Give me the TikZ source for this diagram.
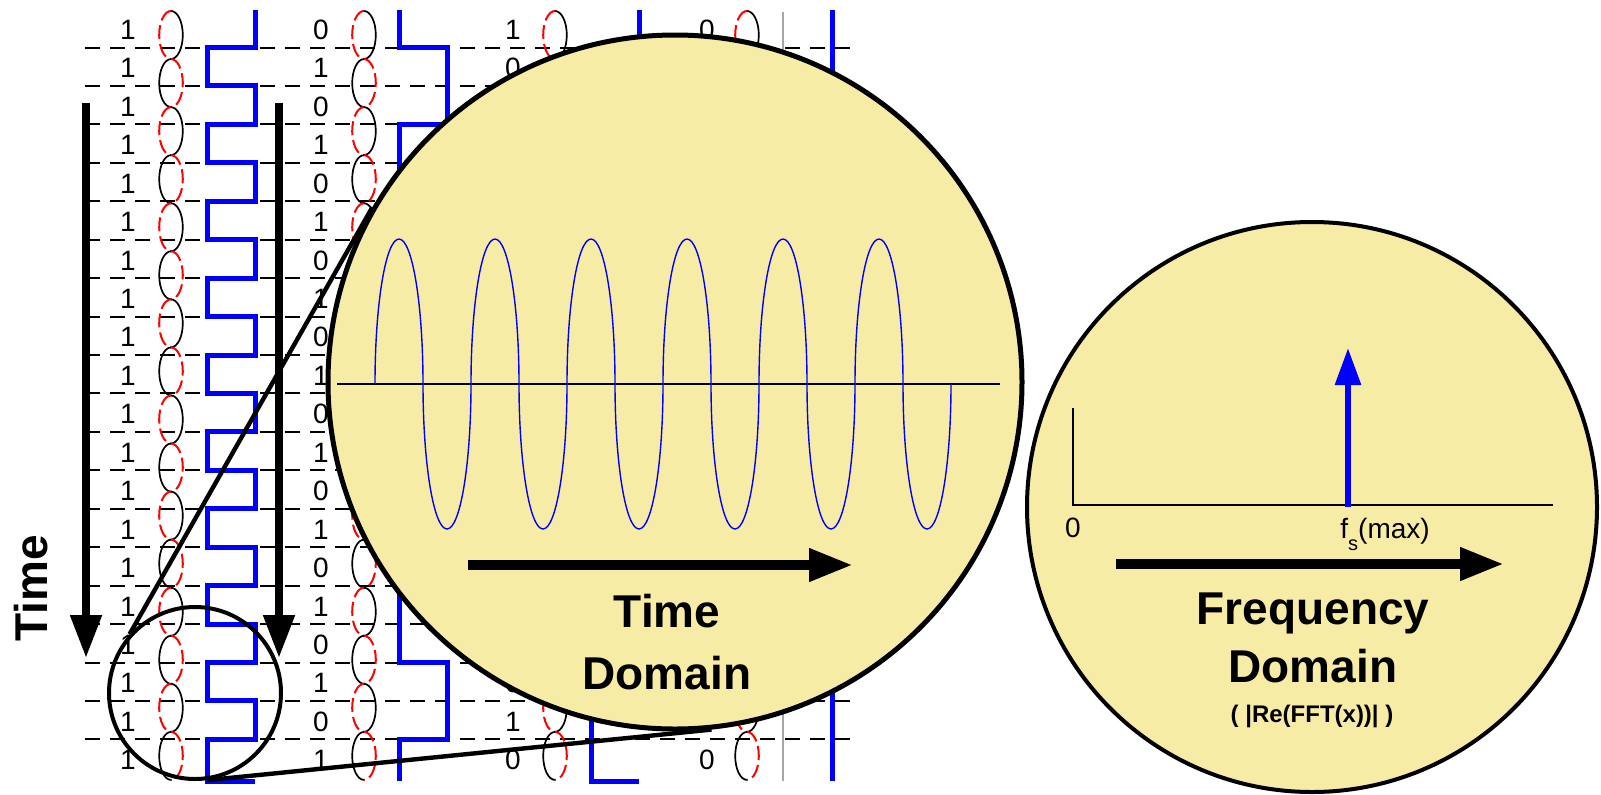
\documentclass[tikz,border=0pt]{standalone}
\usepackage{fontspec}
\setmainfont{Liberation Sans}
\usetikzlibrary{arrows.meta}
\definecolor{lensfill}{RGB}{247,236,166}
\definecolor{wireblue}{RGB}{0,0,255}
\tikzset{
  gridline/.style={dash pattern=on 7.5pt off 5pt, line width=1pt},
  digit/.style={font=\fontsize{14}{16}\selectfont, inner sep=0pt},
  spinf/.style={line width=0.85pt},
  spinb/.style={red, line width=1pt, dash pattern=on 7pt off 2.5pt},
  sq/.style={wireblue, line width=2.5pt},
  tarrow/.style={line width=4pt, -{Triangle[length=21.5pt,width=15pt]}},
  harrow/.style={line width=5pt, -{Triangle[length=22pt,width=15.5pt]}},
  spike/.style={wireblue, line width=3pt, -{Triangle[length=18.5pt,width=12.5pt]}},
  axisl/.style={line width=0.65pt},
  sine/.style={wireblue, line width=0.7pt},
  disc/.style={circle, draw, fill=lensfill, inner sep=0pt},
  lens/.style={circle, draw, line width=2pt, inner sep=0pt, minimum size=86pt},
  link/.style={line width=2.2pt},
  biglbl/.style={font=\fontsize{23}{28}\selectfont\bfseries, inner sep=0pt, anchor=base},
}

\begin{document}
\begin{tikzpicture}[x=0.5pt, y=-0.5pt]
  \useasboundingbox (0,0) rectangle (1601,794);
  \foreach \k [evaluate=\k as \yy using 47.5+38.44*(\k-1)] in {1,...,19}
    \draw[gridline] (85,\yy) -- (853,\yy);
  \foreach \cx/\dodd/\deven [count=\ci] in {128/1/1,321/0/1,513/1/0,707/0/0} {
    \foreach \r in {1,...,20} {
      \pgfmathsetmacro\yy{47.5+38.44*(\r-1.5)+1.5}
      \pgfmathtruncatemacro\seen{veclen(\cx-675,\yy-382)>337}
      \ifnum\seen=1
        \node[digit] (d\ci-\r) at (\cx,\yy) {\ifodd\r\relax\dodd\else\deven\fi};
      \fi
    }
  }
  \foreach \cx in {171,364,555,747} {
    \foreach \k in {1,...,16} {
      \ifodd\k\relax
        \draw[spinb] (\cx,{11+48.06*(\k-1)}) arc[start angle=-90, end angle=-270, x radius=11.8, y radius=24];
        \draw[spinf] (\cx,{11+48.06*(\k-1)}) arc[start angle=-90, end angle=90, x radius=11.8, y radius=24];
      \else
        \draw[spinb] (\cx,{11+48.06*(\k-1)}) arc[start angle=-90, end angle=90, x radius=11.8, y radius=24];
        \draw[spinf] (\cx,{11+48.06*(\k-1)}) arc[start angle=-90, end angle=-270, x radius=11.8, y radius=24];
      \fi
    }
  }
  \draw[sq] (255,10) foreach \k [evaluate=\k as \yy using 47.5+38.44*(\k-1), evaluate={\k as \xx using 255-48*mod(\k,2)}] in {1,...,19} { |- (\xx,\yy) } |- (255,781);
  \draw[sq] (399,10) foreach \k [evaluate=\k as \yy using 47.5+38.44*(\k-1), evaluate={\k as \xx using 399+48*mod((\k+1)/2,2)}] in {1,3,...,19} { |- (\xx,\yy) } -- (399,781);
  \draw[sq] (639,10) foreach \k [evaluate=\k as \yy using 47.5+38.44*(\k-1), evaluate={\k as \xx using 639-48*mod(\k/2,2)}] in {2,4,...,18} { |- (\xx,\yy) } |- (639,781);
  \draw[gray!70, line width=0.6pt] (783,12) -- (783,781);
  \draw[sq] (832,10) -- (832,781);
  \draw[tarrow] (86,103) -- (86,658);
  \draw[tarrow] (279,103) -- (279,658);

  \node[disc, line width=2.5pt, minimum size=347pt] (tdom) at (675,382) {};
  \draw[axisl] (337,384) -- (1000,384);
  \draw[sine] (375,384) foreach \i in {1,...,6} { arc[start angle=180, end angle=360, x radius=24, y radius=145] arc[start angle=180, end angle=0, x radius=24, y radius=145] };
  \draw[harrow] (468,565) -- (853,565);
  \node[biglbl] (ttime) at (667,627) {Time};
  \node[biglbl] (tdomain) at (667,689) {Domain};

  \node[disc, line width=2pt, minimum size=285pt] (fdom) at (1312,507) {};
  \draw[axisl] (1073,408) |- (1553,505);
  \draw[spike] (1348,507) -- (1348,348);
  \node[digit] (zero) at (1073,528) {0};
  \node[digit, anchor=base west] (fmax) at (1340,538) {f\raisebox{-0.45em}{\fontsize{10}{11}\selectfont s}(max)};
  \draw[harrow] (1116,564) -- (1504,564);
  \node[biglbl] (ffreq) at (1313,624) {Frequency};
  \node[biglbl] (fdomain) at (1313,682) {Domain};
  \node[biglbl, font=\fontsize{12}{14}\selectfont\bfseries] (fft) at (1312,722) {( |Re(FFT(x))| )};

  \node[lens] (zoomc) at (195,693) {};
  \draw[link] (zoomc.138) -- (tdom.150);
  \draw[link] (zoomc.-82) -- (tdom.-84);
  \node[biglbl, rotate=90, anchor=center] (tlabel) at (31.5,588) {Time};
\end{tikzpicture}
\end{document}
